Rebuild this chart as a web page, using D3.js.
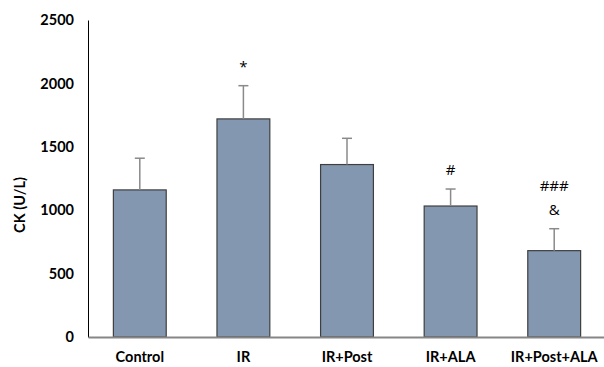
<!DOCTYPE html>
<html><head><meta charset="utf-8">
<script src="https://cdn.jsdelivr.net/npm/d3@7"></script>
<style>html,body{margin:0;padding:0;background:#fff;}svg{display:block;}</style>
</head><body>
<script>
const categories = ["Control", "IR", "IR+Post", "IR+ALA", "IR+Post+ALA"];
const means = [1160, 1720, 1360, 1033, 681];
const errors = [250, 262, 207, 134, 173];
const annotations = [[], ["*"], [], ["#"], ["###", "&"]];
const yTicks = [0, 500, 1000, 1500, 2000, 2500];
const yLabel = "CK (U/L)";

const W = 604, H = 367;
const svg = d3.select("body").append("svg").attr("width", W).attr("height", H);

const x = d3.scaleBand().domain(categories).range([88, 606]).paddingInner(0.49).paddingOuter(0.245);
const y = d3.scaleLinear().domain([0, 2500]).range([337, 20]);

const font = "Lato, sans-serif";

// y axis
const yAxis = svg.append("g").attr("transform", "translate(88,0)")
  .call(d3.axisLeft(y).tickValues(yTicks).tickSize(0).tickPadding(14).tickFormat(d3.format("d")));
yAxis.select(".domain").attr("stroke", "#000").attr("stroke-width", 1);
yAxis.selectAll("text").attr("font-family", font).attr("font-weight", "bold")
  .attr("font-size", 14.5).attr("fill", "#000");

// bars
svg.append("g").selectAll("rect").data(categories).join("rect")
  .attr("x", d => x(d)).attr("width", x.bandwidth())
  .attr("y", (d, i) => y(means[i])).attr("height", (d, i) => y(0) - y(means[i]))
  .attr("fill", "#8497b0").attr("stroke", "#3f3f3f").attr("stroke-width", 1.2);

// error bars (upper only)
const eg = svg.append("g").attr("stroke", "#8a8a8a").attr("stroke-width", 1.5);
categories.forEach((c, i) => {
  const cx = x(c) + x.bandwidth() / 2;
  eg.append("line").attr("x1", cx).attr("x2", cx).attr("y1", y(means[i])).attr("y2", y(means[i] + errors[i]));
  eg.append("line").attr("x1", cx - 5).attr("x2", cx + 5).attr("y1", y(means[i] + errors[i])).attr("y2", y(means[i] + errors[i]));
});

// x axis
const xAxis = svg.append("g").attr("transform", "translate(0,337)")
  .call(d3.axisBottom(x).tickSize(0).tickPadding(15));
xAxis.select(".domain").attr("stroke", "#868686").attr("stroke-width", 2);
xAxis.selectAll("text").attr("font-family", font).attr("font-weight", "bold")
  .attr("font-size", 14.5).attr("fill", "#000");

// annotations
categories.forEach((c, i) => {
  const cx = x(c) + x.bandwidth() / 2;
  const top = y(means[i] + errors[i]);
  const lines = annotations[i];
  lines.forEach((t, j) => {
    svg.append("text").attr("x", cx)
      .attr("y", top - 14 - (lines.length - 1 - j) * 24)
      .attr("text-anchor", "middle").attr("font-family", "'Open Sans', sans-serif")
      .attr("font-size", 15).attr("fill", "#000").text(t);
  });
});

// y label
svg.append("text").attr("transform", "translate(25,205) rotate(-90)")
  .attr("text-anchor", "middle").attr("font-family", font).attr("font-weight", "bold")
  .attr("font-size", 14.5).attr("fill", "#000").text(yLabel);
</script>
</body></html>
